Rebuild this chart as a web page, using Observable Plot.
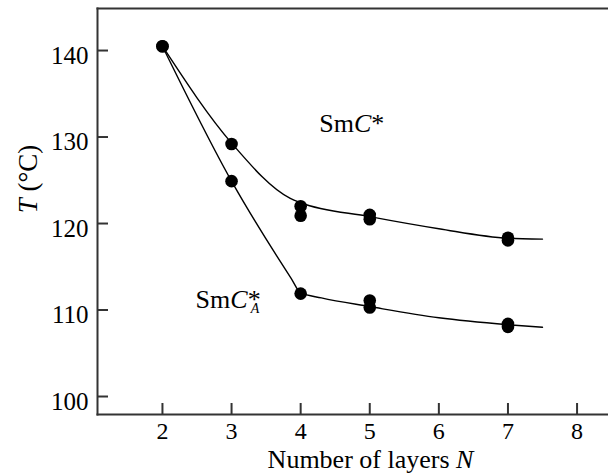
<!DOCTYPE html>
<html><head><meta charset="utf-8">
<script src="https://cdn.jsdelivr.net/npm/d3@7"></script>
<script src="https://cdn.jsdelivr.net/npm/@observablehq/plot@0.6"></script>
<style>html,body{margin:0;padding:0;background:#fff} #chart svg{display:block}</style>
</head><body><div id="chart"></div>
<script>
// measured points (Number of layers N, transition temperature T in °C)
const smcN = [2, 3, 4, 4, 5, 5, 7, 7];
const smcT = [140.5, 129.2, 122.0, 120.9, 121.0, 120.5, 118.35, 118.05];
const smcaN = [2, 3, 4, 5, 5, 7, 7];
const smcaT = [140.5, 124.9, 111.9, 111.1, 110.3, 108.4, 108.05];
// fitted guide curves
const smcFitN = [2, 3, 3.85, 4, 5, 6, 7, 7.5];
const smcFitT = [140.5, 129.3, 122.9, 122.4, 120.8, 119.4, 118.3, 118.2];
const smcaFitN = [2, 3, 3.86, 4, 4.3, 5, 6, 7, 7.5];
const smcaFitT = [140.5, 124.9, 113.7, 112.0, 111.4, 110.4, 109.1, 108.3, 108.0];
const xTicks = [2, 3, 4, 5, 6, 7, 8];
const yTicks = [100, 110, 120, 130, 140];
const phaseLabels = ["SmC*", "SmC*A"];
const labelN = [4.27, 2.48];
const labelT = [130.6, 110.2];
const xTitle = "Number of layers N";
const yTitle = "T (°C)";

const pts = (N, T) => N.map((n, i) => ({n, t: T[i]}));
const axisColor = "#333";

const plot = Plot.plot({
  width: 608, height: 475,
  marginLeft: 97, marginRight: 0, marginTop: 8, marginBottom: 61,
  style: {fontFamily: '"Liberation Serif", "Times New Roman", serif', fontSize: "25px", color: "#000", background: "#fff", overflow: "visible"},
  x: {domain: [1.06, 8.455], label: null},
  y: {domain: [97.92, 144.86], label: null},
  marks: [
    Plot.frame({anchor: "top", stroke: axisColor, strokeWidth: 2}),
    Plot.frame({anchor: "left", stroke: axisColor, strokeWidth: 2}),
    Plot.frame({anchor: "bottom", stroke: axisColor, strokeWidth: 2}),
    Plot.axisX({ticks: xTicks, tickSize: -11, fill: "none", stroke: axisColor, strokeWidth: 2, label: null}),
    Plot.axisX({ticks: xTicks, tickSize: 0, tickPadding: 7, label: null, fill: "#000", fontSize: 24}),
    Plot.axisY({ticks: yTicks, tickSize: -11, fill: "none", stroke: axisColor, strokeWidth: 2, label: null}),
    Plot.axisY({ticks: yTicks, tickSize: 0, tickPadding: 9, dy: 5, label: null, fill: "#000", fontSize: 25}),
    Plot.line(pts(smcFitN, smcFitT), {x: "n", y: "t", curve: "monotone-x", stroke: "#000", strokeWidth: 1.4}),
    Plot.line(pts(smcaFitN, smcaFitT), {x: "n", y: "t", curve: "monotone-x", stroke: "#000", strokeWidth: 1.4}),
    Plot.dot(pts(smcN, smcT), {x: "n", y: "t", r: 6.3, fill: "#000"}),
    Plot.dot(pts(smcaN, smcaT), {x: "n", y: "t", r: 6.3, fill: "#000"}),
    Plot.text(phaseLabels.map((s, i) => ({s, n: labelN[i], t: labelT[i]})), {x: "n", y: "t", text: "s", textAnchor: "start", lineAnchor: "bottom", fontSize: 26, fill: "#000"}),
    Plot.text([xTitle], {frameAnchor: "bottom", textAnchor: "middle", dx: 17.5, dy: 53, lineAnchor: "bottom", fontSize: 26, fill: "#000"}),
    Plot.text([yTitle], {frameAnchor: "left", textAnchor: "middle", rotate: -90, dx: -61, dy: -32.5, lineAnchor: "bottom", fontSize: 27, fill: "#000"})
  ]
});

// rich text: italics and subscript
d3.select(plot).selectAll("text").each(function () {
  const s = this.textContent;
  const el = d3.select(this);
  if (s === "SmC*") {
    el.text(null);
    el.append("tspan").text("Sm");
    el.append("tspan").attr("font-style", "italic").text("C");
    el.append("tspan").text("*");
  } else if (s === "SmC*A") {
    el.text(null);
    el.append("tspan").text("Sm");
    el.append("tspan").attr("font-style", "italic").text("C");
    el.append("tspan").text("*");
    el.append("tspan").attr("font-style", "italic").attr("font-size", 14).attr("dx", -10).attr("dy", 5).text("A");
  } else if (s === xTitle) {
    el.text(null);
    el.append("tspan").text("Number of layers ");
    el.append("tspan").attr("font-style", "italic").text("N");
  } else if (s === yTitle) {
    el.text(null);
    el.append("tspan").attr("font-style", "italic").text("T");
    el.append("tspan").text(" (°C)");
  }
});

document.getElementById("chart").appendChild(plot);
</script>
</body></html>
